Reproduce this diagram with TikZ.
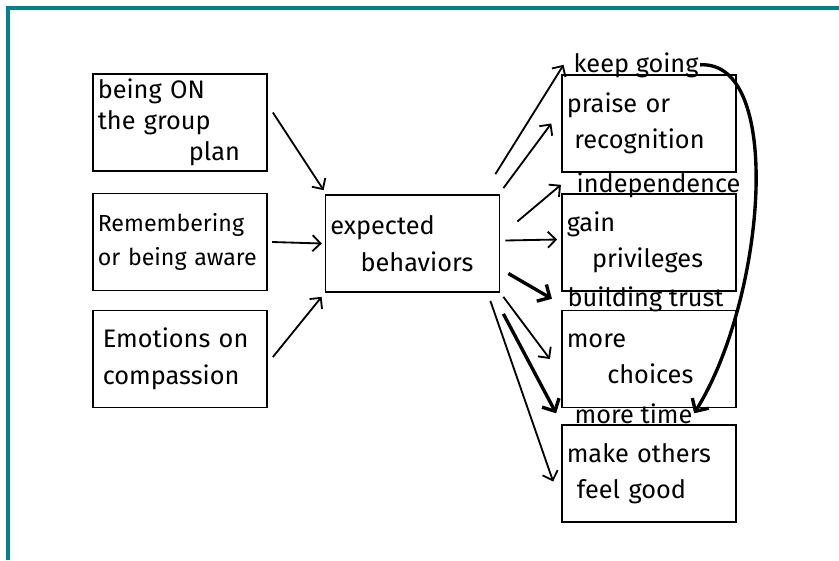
\documentclass[tikz,border=0pt]{standalone}
\usepackage{fontspec}
\setmainfont{Fira Sans}
\usetikzlibrary{arrows.meta, positioning, calc}
\definecolor{frameteal}{RGB}{0,130,138}
\tikzset{
  box/.style={draw, line width=1.2pt, minimum height=2.425cm, minimum width=4.35cm,
    inner xsep=0.12cm, text width=4.11cm, align=left, font=\fontsize{18}{26}\selectfont},
  tag/.style={inner sep=1pt, font=\fontsize{18}{20}\selectfont},
  arr/.style={-{Straight Barb[length=2mm]}, line width=1.3pt},
  fatarr/.style={-{Straight Barb[length=2.4mm]}, line width=2.4pt},
}

\begin{document}
\begin{tikzpicture}[x=0.025cm, y=-0.025cm]
    \useasboundingbox (0,0) rectangle (839,560);
    \draw[frameteal, line width=2.2pt] (8,560) -- (8,8) -- (839,8);

    \node[box, font=\fontsize{18}{22}\selectfont] (plan) at (180,122.5) {being ON\\the group\\\hspace*{3.6em}plan};
    \node[box, font=\fontsize{16.5}{24}\selectfont] (aware) at (180,242) {Remembering\\or being aware};
    \node[box] (emotions) at (180,359) {\hspace*{0.2em}Emotions on\\\hspace*{0.2em}compassion};
    \node[box] (exp) at (412.5,243.5) {expected\\\hspace*{1.2em}behaviors};
    \node[box] (praise) at (649,123.5) {praise or\\\hspace*{0.3em}recognition};
    \node[box] (gain) at (649,242.5) {gain\\\hspace*{1em}privileges};
    \node[box] (choices) at (649,359) {more\\\hspace*{1.6em}choices};
    \node[box] (good) at (649,473.5) {make others\\\hspace*{0.4em}feel good};

    \node[tag, anchor=base west] (keep) at (572,72) {keep going};
    \node[tag, anchor=base west] (indep) at (575,192) {independence};
    \node[tag, anchor=base west] (trust) at (566,306) {building trust};
    \node[tag, anchor=base west] (time) at (573,423) {more time};

    \draw[arr] ([shift={(5,-10)}]plan.east) -- ([shift={(-1,-4)}]exp.north west);
    \draw[arr] ([xshift=3]aware.east) -- ([xshift=-2]exp.west);
    \draw[arr] ([shift={(5,-2)}]emotions.east) -- ([shift={(-3,4)}]exp.south west);

    \draw[arr] ([shift={(-5,-20)}]exp.north east) -- ([xshift=-6]keep.west);
    \draw[arr] ([shift={(3,-6)}]exp.north east) -- ([xshift=-7]praise.west);
    \draw[arr] ([shift={(17,-22)}]exp.east) -- ([xshift=-10]indep.west);
    \draw[arr] ([shift={(5,-3)}]exp.east) -- ([shift={(-4,-3)}]gain.west);
    \draw[fatarr] ([shift={(8,30)}]exp.east) -- ([xshift=-10]trust.west);
    \draw[arr] ([shift={(3,4)}]exp.south east) -- ([xshift=-8]choices.west);
    \draw[fatarr] ([shift={(3,21)}]exp.south east) -- ([xshift=-12]time.west);
    \draw[arr] ([shift={(-10,8)}]exp.south east) -- ([shift={(-8,8)}]good.west);

    \draw[fatarr] (keep.east) .. controls (785,60) and (765,300) .. (time.east);
\end{tikzpicture}
\end{document}
